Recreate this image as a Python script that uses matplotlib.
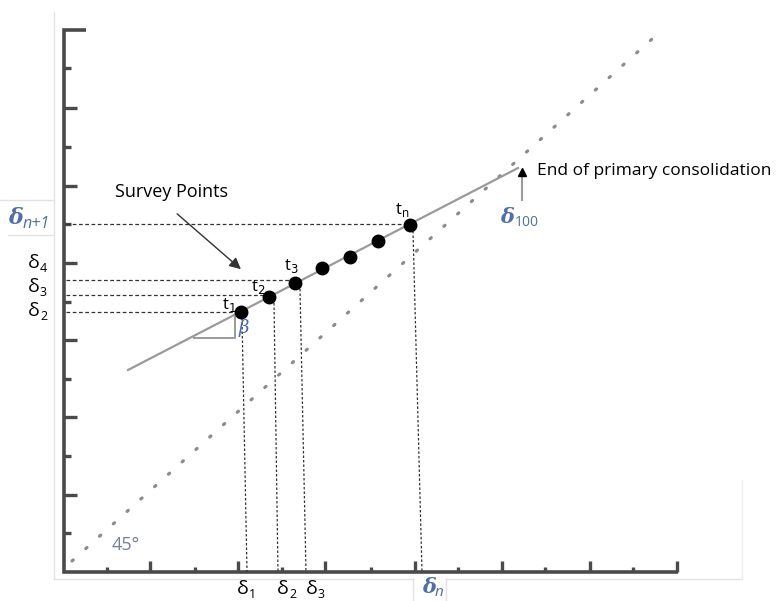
import matplotlib.pyplot as plt

plt.rcParams["font.family"] = ["Open Sans", "DejaVu Sans"]

W, H = 776, 601

# axis frame (canvas pixel units, y grows downward)
axis_x = 64
axis_top = 30
axis_bottom = 572
axis_right = 678

y_ticks = [68, 108, 147, 186, 224, 263, 302, 340, 379, 417, 456, 495, 533]
y_tick_long = [False, True, False, True, False, True, False, True, False, True, False, True, False]
x_ticks = [107, 150, 195, 238, 282, 325, 371, 415, 458, 502, 545, 590, 633, 677]
x_tick_long = [False, True, False, True, False, True, False, True, False, True, False, True, False, True]

# settlement survey points t1 ... tn
survey_x = [241, 269, 295, 322, 350, 378, 410]
survey_y = [312, 297, 283, 268, 257, 241, 225]
survey_labels = ["t$_1$", "t$_2$", "t$_3$", "", "", "", "t$_\\mathregular{n}$"]
label_dx = [-12, -11, -4, 0, 0, 0, -8]
label_dy = [-7, -10, -17, 0, 0, 0, -15]

# fitted line through the survey points
fit_x = [128, 518]
fit_y = [370, 168]

# 45 degree reference line
ref_x = [72, 662]
ref_y = [561, 30]

# projections to the axes
h_proj_y = [224, 280, 295, 312]
h_proj_x = [410, 295, 269, 241]
v_proj_top = [(242, 318), (274, 303), (300, 289), (413, 231)]
v_proj_bottom = [247, 278, 306, 422]

left_labels = [("4", 263), ("3", 287), ("2", 311)]
bottom_labels = [("1", 247), ("2", 287), ("3", 316)]

fig = plt.figure(figsize=(W / 100, H / 100), dpi=100)
ax = fig.add_axes([0, 0, 1, 1])
ax.set_xlim(0, W)
ax.set_ylim(H, 0)
ax.axis("off")

faint = "#e2e2e2"
ax.plot([54, 54], [12, 579], color=faint, lw=1)
ax.plot([54, 413], [579, 579], color=faint, lw=1)
ax.plot([413, 413], [579, 601], color=faint, lw=1)
ax.plot([446, 742], [579, 579], color=faint, lw=1)
ax.plot([446, 446], [579, 601], color=faint, lw=1)
ax.plot([742, 742], [480, 579], color="#eeeeee", lw=1)
ax.plot([0, 54], [200, 200], color=faint, lw=1)
ax.plot([8, 54], [235, 235], color=faint, lw=1)

axis_color = "#4a4a4a"
ax.plot([axis_x + 22, axis_x, axis_x, axis_right],
        [axis_top, axis_top, axis_bottom, axis_bottom],
        color=axis_color, lw=2.6, solid_joinstyle="miter", solid_capstyle="butt")
for y, long_tick in zip(y_ticks, y_tick_long):
    ax.plot([axis_x, axis_x + (13 if long_tick else 7)], [y, y], color=axis_color, lw=2.4,
            solid_capstyle="butt")
for x, long_tick in zip(x_ticks, x_tick_long):
    ax.plot([x, x], [axis_bottom, axis_bottom - (11 if long_tick else 5)], color=axis_color,
            lw=2.4, solid_capstyle="butt")

# dotted 45 degree line
ax.plot(ref_x, ref_y, color="#8c8c8c", lw=2.3, linestyle=(0, (0.5, 5.3)),
        dash_capstyle="round")

# projection lines
for y, x in zip(h_proj_y, h_proj_x):
    ax.plot([axis_x + 2, x], [y, y], color="#333333", lw=0.9, linestyle=(0, (3, 2)))
for (x0, y0), x1 in zip(v_proj_top, v_proj_bottom):
    ax.plot([x0, x1], [y0, axis_bottom], color="#333333", lw=0.9, linestyle=(0, (2, 1.6)))

# fitted line and beta triangle
ax.plot(fit_x, fit_y, color="#9a9a9a", lw=1.6)
ax.plot([194, 235, 235], [338, 338, 317], color="#9a9a9a", lw=1.4)
ax.text(244, 328, "β", color="#4a62b8", fontsize=13, fontstyle="italic",
        family="DejaVu Serif", ha="center", va="center")

ax.plot(survey_x, survey_y, "o", color="black", markersize=9, zorder=5)
for x, y, lab, dx, dy in zip(survey_x, survey_y, survey_labels, label_dx, label_dy):
    if lab:
        ax.text(x + dx, y + dy, lab, fontsize=12, ha="center", va="center")

# end of primary consolidation marker
ax.plot([522, 522], [200, 174], color="#9a9a9a", lw=1.5)
ax.plot([522], [172], marker="^", color="black", markersize=6)
ax.text(537, 171, "End of primary consolidation", fontsize=12.5, ha="left", va="center")
ax.text(500, 217, "δ", fontsize=15, fontweight="bold", fontstyle="italic",
        family="DejaVu Serif", color="#4f6fa8", ha="left", va="center")
ax.text(515, 223, "100", fontsize=10, color="#4f6fa8", ha="left", va="center")

ax.text(115, 192, "Survey Points", fontsize=13, ha="left", va="center")
ax.annotate("", xy=(243, 271), xytext=(175, 212),
            arrowprops=dict(arrowstyle="-|>", color="#333333", lw=1, mutation_scale=17))

# delta labels along the axes
ax.text(8, 218, "δ", fontsize=16, fontweight="bold", fontstyle="italic",
        family="DejaVu Serif", color="#4f6fa8", ha="left", va="center")
ax.text(23, 224, "n+1", fontsize=11.5, color="#4f6fa8", ha="left", va="center",
        fontstyle="italic")
for sub, y in left_labels:
    ax.text(40, y, "δ", fontsize=14, ha="right", va="center")
    ax.text(40, y + 5, sub, fontsize=9, ha="left", va="center")
for sub, x in bottom_labels:
    ax.text(x + 2, 589, "δ", fontsize=14, ha="right", va="center")
    ax.text(x + 2, 594, sub, fontsize=9, ha="left", va="center")
ax.text(422, 587, "δ", fontsize=15, fontweight="bold", fontstyle="italic",
        family="DejaVu Serif", color="#4f6fa8", ha="left", va="center")
ax.text(435, 593, "n", fontsize=11, fontstyle="italic", color="#4f6fa8", ha="left", va="center")

ax.text(126, 545, "45°", fontsize=13, color="#7a7f99", ha="center", va="center")

fig.savefig("out.png", dpi=100)
